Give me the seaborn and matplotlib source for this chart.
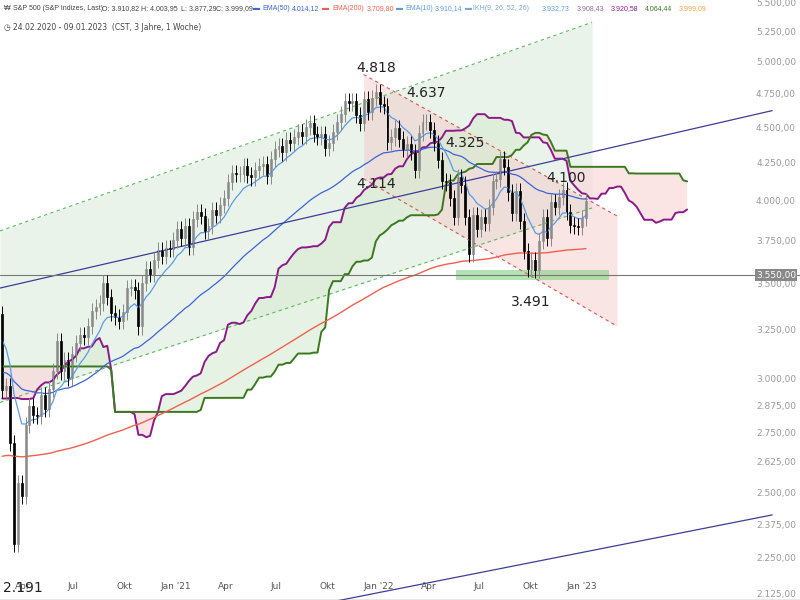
import numpy as np
import pandas as pd
import matplotlib
matplotlib.use("Agg")
import matplotlib.pyplot as plt
import seaborn as sns

# ---- data: weekly closes (history used only for indicators) ----
hist_closes = [2743,2743,2822,2800,2834,2893,2907,2905,2940,2946,2881,2860,2826,2752,2873,2887,2950,2942,2990,3014,
               2977,3025,2932,2919,2889,2847,2926,2979,3007,2992,2962,2952,2970,2986,3023,3067,3093,3120,3110,3141,
               3146,3169,3221,3240,3235,3265,3330,3295,3225,3328,3380,3338]
closes = [2954,2972,2711,2305,2541,2489,2790,2875,2837,2831,2930,2864,2955,3044,3194,3041,3098,3009,3130,3185,
          3225,3216,3271,3351,3373,3397,3508,3427,3341,3319,3298,3348,3477,3484,3465,3270,3509,3585,3558,3638,
          3699,3663,3709,3703,3756,
          3824,3768,3841,3714,3886,3934,3906,3811,3842,3943,3913,3974,4020,4128,4185,4180,4181,4232,4174,4156,
          4204,4230,4247,4166,4281,4352,4370,4327,4412,4395,4437,4468,4442,4509,4535,4459,4433,4455,4357,4391,
          4471,4545,4605,4698,4683,4698,4595,4538,4712,4620,4725,4766,
          4677,4662,4398,4432,4500,4419,4349,4385,4329,4204,4463,4543,4546,4488,4393,4272,4132,4123,4023,3901,
          4158,4109,3901,3675,3912,3825,3899,3863,3962,4130,4145,4280,4228,4057,3924,4067,3873,3693,3586,3639,
          3583,3752,3901,3771,3993,3965,4026,4072,3934,3852,3845,3840,3895,3999]
first_open = 3380
wick = 0.013
ema_seeds = {50: 3040, 200: 2650, 10: 3250}

# trend lines: (date, price)
green_up = [("2020-02-20", 3813), ("2023-01-20", 5335)]
green_lo = [("2020-02-20", 2893), ("2023-01-20", 3957)]
red_up = [("2021-12-05", 4905), ("2023-03-06", 3906)]
red_lo = [("2021-12-05", 4147), ("2023-03-06", 3271)]
blue1 = [("2020-02-20", 3478), ("2023-12-10", 4628)]
blue2 = [("2021-10-07", 2098), ("2023-12-10", 2414)]
support = 3550
labels = [("4.818", "2021-12-28", 4960), ("4.637", "2022-03-28", 4760), ("4.325", "2022-06-05", 4390),
          ("4.114", "2021-12-28", 4110), ("4.100", "2022-12-05", 4150), ("3.491", "2022-10-01", 3400),
          ("2.191", "2020-04-01", 2145)]
yticks = [2125,2250,2375,2500,2625,2750,2875,3000,3250,3500,3750,4000,4250,4500,4750,5000,5250,5500]

header = [("\u20a9", 4, "#444444"), ("S&P 500 (S&P Indizes, Last)", 13, "#444444"),
          ("O: 3.910,82", 102, "#444444"), ("H: 4.003,95", 141, "#444444"),
          ("L: 3.877,29", 181, "#444444"), ("C: 3.999,09", 216, "#444444"),
          ("\u25ac", 253, "#3b64d8"), ("EMA(50)", 262, "#3b64d8"), ("4.014,12", 292, "#3b64d8"),
          ("\u25ac", 322, "#f0604d"), ("EMA(200)", 332, "#f0604d"), ("3.709,80", 367, "#f0604d"),
          ("\u25ac", 396, "#5b9be6"), ("EMA(10)", 405, "#5b9be6"), ("3.910,14", 435, "#5b9be6"),
          ("\u25ac", 465, "#7aa6e0"), ("IKH(9, 26, 52, 26)", 473, "#7aa6e0"),
          ("3.932,73", 542, "#5b9be6"), ("3.908,43", 577, "#8b6b8b"), ("3.920,58", 611, "#8b1a89"),
          ("4.064,44", 645, "#3a7a1e"), ("3.999,09", 679, "#f0a040")]

# ---- build frame ----
dates = pd.date_range("2020-02-24", periods=len(closes), freq="7D")
hdates = pd.date_range(end=dates[0] - pd.Timedelta(days=7), periods=len(hist_closes), freq="7D")
allc = pd.Series(hist_closes + closes, index=hdates.append(dates), dtype=float)
opens = allc.shift(1).fillna(first_open)
hi = np.maximum(opens, allc) * (1 + wick)
lo = np.minimum(opens, allc) * (1 - wick)

def ema(n):
    s = pd.Series([ema_seeds[n]] + closes, dtype=float).ewm(span=n, adjust=False).mean().iloc[1:]
    s.index = dates
    return s

tenkan = (hi.rolling(9, min_periods=1).max() + lo.rolling(9, min_periods=1).min()) / 2
kijun = (hi.rolling(26, min_periods=1).max() + lo.rolling(26, min_periods=1).min()) / 2
spanA = ((tenkan + kijun) / 2)
spanB = (hi.rolling(52, min_periods=1).max() + lo.rolling(52, min_periods=1).min()) / 2
shift_idx = allc.index + pd.Timedelta(weeks=26)
spanA = pd.Series(spanA.values, index=shift_idx)
spanB = pd.Series(spanB.values, index=shift_idx)
m = spanA.index >= pd.Timestamp("2020-02-20")
spanA, spanB = spanA[m], spanB[m]

sns.set_style("white")
fig = plt.figure(figsize=(8, 6), dpi=100)
ax = fig.add_axes([0, 0, 1, 1])
ax.set_yscale("log")
ax.set_ylim(2105, 5530)
ax.set_xlim(pd.Timestamp("2020-02-20"), pd.Timestamp("2024-01-29"))

def L(p):
    return [pd.Timestamp(p[0][0]), pd.Timestamp(p[1][0])], [p[0][1], p[1][1]]

# green channel
gx, gu = L(green_up); _, gl = L(green_lo)
ax.fill_between(gx, gl, gu, color="#dcebdc", alpha=0.6, lw=0)
ax.plot(gx, gu, ls=(0, (3, 3)), color="#5cb85c", lw=0.8)
ax.plot(gx, gl, ls=(0, (3, 3)), color="#5cb85c", lw=0.8)
# red channel
rx, ru = L(red_up); _, rl = L(red_lo)
ax.fill_between(rx, rl, ru, color="#f5c6c6", alpha=0.45, lw=0)
ax.plot(rx, ru, ls=(0, (3, 3)), color="#d9534f", lw=0.8)
ax.plot(rx, rl, ls=(0, (3, 3)), color="#d9534f", lw=0.8)

# cloud
ax.fill_between(spanA.index, spanA.values, spanB.values, where=spanA.values >= spanB.values,
                color="#d6ecd2", alpha=0.6, interpolate=True, lw=0)
ax.fill_between(spanA.index, spanA.values, spanB.values, where=spanA.values < spanB.values,
                color="#f9d9d9", alpha=0.7, interpolate=True, lw=0)
sns.lineplot(x=spanA.index, y=spanA.values, ax=ax, color="#8b1a89", lw=1.4)
sns.lineplot(x=spanB.index, y=spanB.values, ax=ax, color="#3a7a1e", lw=1.4)

# EMAs
sns.lineplot(x=dates, y=ema(200).values, ax=ax, color="#f0604d", lw=1)
sns.lineplot(x=dates, y=ema(50).values, ax=ax, color="#3b64d8", lw=0.9)
sns.lineplot(x=dates, y=ema(10).values, ax=ax, color="#5b9be6", lw=0.9)

# lines
bx, by = L(blue1); ax.plot(bx, by, color="#3d3d99", lw=0.9)
bx, by = L(blue2); ax.plot(bx, by, color="#3d3d99", lw=0.9)
ax.axhline(support, color="#777777", lw=0.8)
ax.fill_between([pd.Timestamp("2022-05-20"), pd.Timestamp("2023-02-20")], [3525, 3525], [3580, 3580],
                color="#7fd17f", alpha=0.6, lw=0)

# candles
o = opens.loc[dates].values; c = np.array(closes, float)
h = hi.loc[dates].values; l = lo.loc[dates].values
up = c >= o
ax.vlines(dates, l, h, color=np.where(up, "#888888", "#000000"), lw=0.7)
ax.bar(dates, np.abs(c - o), bottom=np.minimum(o, c), width=3.5,
       color=np.where(up, "#cccccc", "#000000"), edgecolor=np.where(up, "#888888", "#000000"), lw=0.5)

for t, d, p in labels:
    ax.text(pd.Timestamp(d), p, t, fontsize=10, color="#222222", ha="center", va="center")

# axes styling
for s in ["top", "left", "right", "bottom"]:
    ax.spines[s].set_visible(False)
ax.yaxis.set_major_locator(matplotlib.ticker.NullLocator())
ax.yaxis.set_minor_locator(matplotlib.ticker.NullLocator())
for v in yticks:
    lab = f"{v:,.2f}".replace(",", "X").replace(".", ",").replace("X", ".")
    ax.text(0.995, v, lab, transform=ax.get_yaxis_transform(), fontsize=6.5, color="#999999",
            ha="right", va="center")
ax.text(0.995, support, "3.550,00", transform=ax.get_yaxis_transform(), fontsize=6.5, color="white",
        ha="right", va="center", bbox=dict(boxstyle="square,pad=0.15", fc="#888888", ec="none"))
tick_d = pd.date_range("2020-04-01", "2023-01-01", freq="3MS")
ax.set_xticks(tick_d)
mon = {1: "Jan", 4: "Apr", 7: "Jul", 10: "Okt"}
ax.set_xticklabels([mon[d.month] + (f" '{d.year % 100}" if d.month == 1 else "") for d in tick_d],
                   fontsize=6.5, color="#555555")
ax.tick_params(axis="x", direction="in", length=4, pad=-13, color="#888888")
ax.axhline(2105, color="#888888", lw=1)
ax.set_xlabel(""); ax.set_ylabel("")

for t, x, col in header:
    fig.text(x / 800, 1 - 9 / 600, t, fontsize=5.0, family="Liberation Sans", color=col, va="center")
fig.text(4 / 800, 1 - 27 / 600, "\u25f7 24.02.2020 - 09.01.2023  (CST, 3 Jahre, 1 Woche)", fontsize=5.5,
         color="#444444", va="center")
fig.savefig("out.png", dpi=100)
